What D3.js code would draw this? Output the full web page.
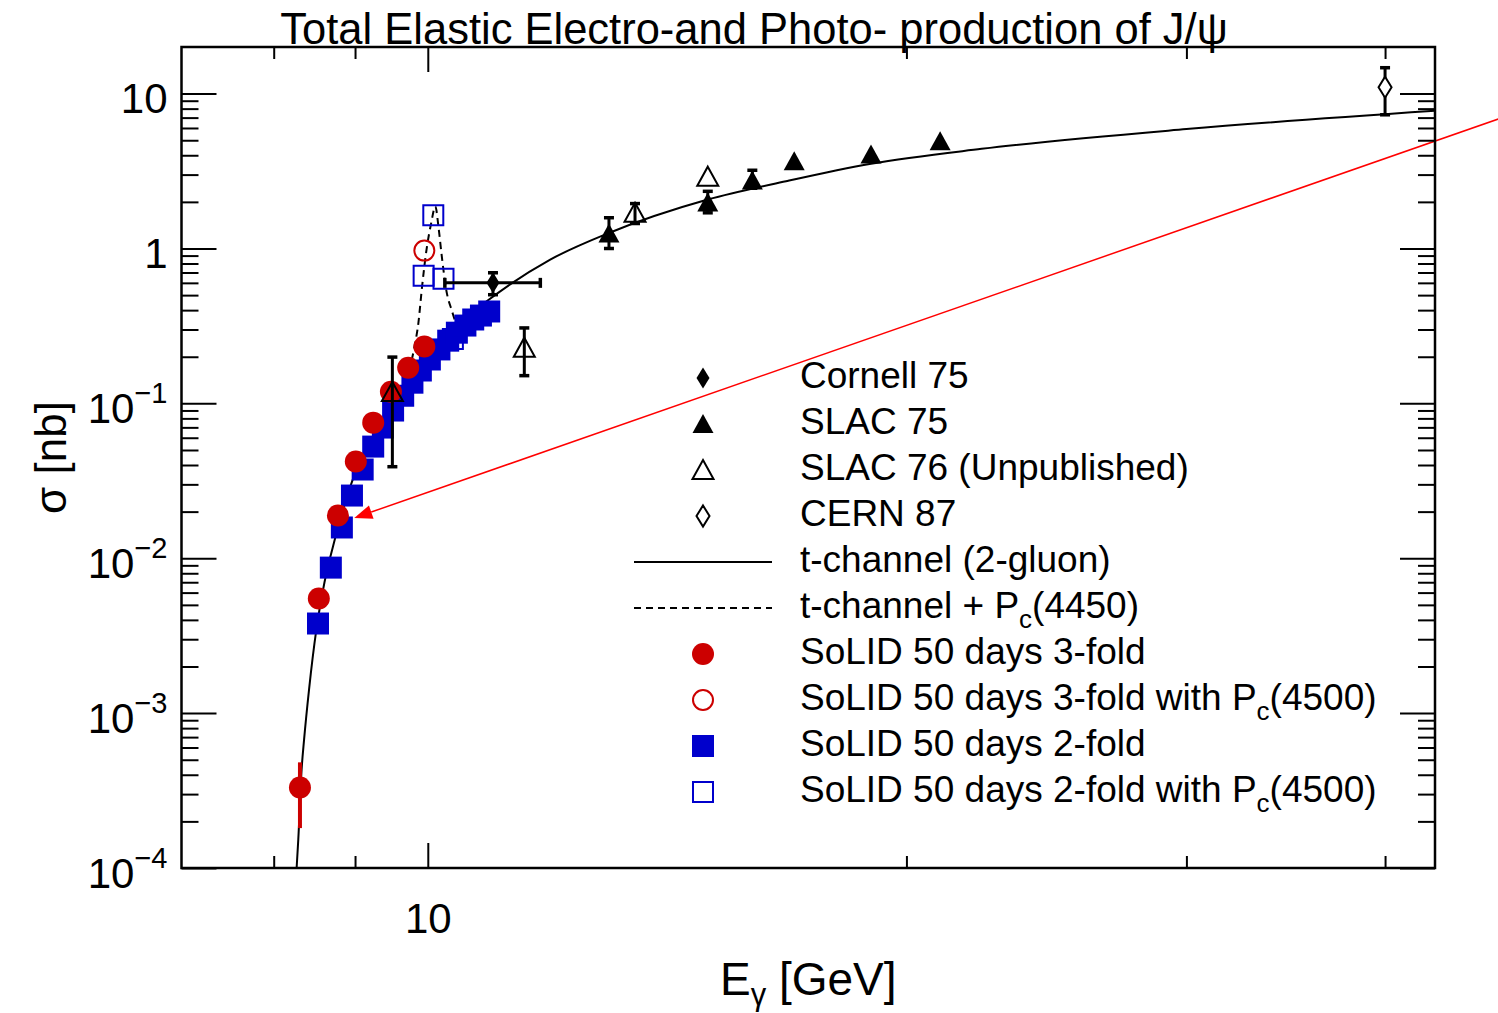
<!DOCTYPE html>
<html>
<head>
<meta http-equiv="Content-type" content="text/html; charset=utf-8">
<title>Total Elastic Electro-and Photo- production of J/psi</title>
<script src="https://d3js.org/d3.v7.min.js"></script>
<style>
  body { margin: 0; background: #fff; }
  svg text { font-family: "Liberation Sans", Arial, Helvetica, sans-serif; fill: #000; }
  .axis .domain { display: none; }
  .axis line { stroke: #000; stroke-width: 2; }
</style>
</head>
<body>
<svg id="chart" width="1498" height="1013"></svg>
<script>
// ---- values (E in GeV, sigma in nb) ----

// t-channel (2-gluon) curve
var gluonE = [8.27, 8.29, 8.33, 8.36, 8.42, 8.51, 8.61, 8.74, 8.97, 9.3, 9.6, 10.0, 10.4, 10.89, 11.94, 13.0, 15.0, 16.8, 19.0, 22.3, 30, 43];
var gluonS = [1.0e-4, 1.53e-4, 4.33e-4, 6.76e-4, 1.42e-3, 3.47e-3, 6.97e-3, 0.0132, 0.0322, 0.065, 0.115, 0.20, 0.31, 0.456, 0.848, 1.26, 2.07, 2.72, 3.53, 4.40, 5.9, 7.74];

// t-channel + Pc(4450)
var pcE = [9.6, 9.81, 9.865, 9.913, 9.975, 10.05, 10.11, 10.155, 10.205, 10.27, 10.35, 10.43, 10.55];
var pcS = [0.115, 0.234, 0.331, 0.543, 0.937, 1.463, 1.873, 1.391, 0.890, 0.543, 0.403, 0.331, 0.352];

// Cornell 75
var cornellE = [10.99], cornellS = [0.60];
var cornellLo = [0.503], cornellHi = [0.697];
var cornellElo = [10.25], cornellEhi = [11.77];

// SLAC 75
var slac75E = [13.0, 15.0, 16.0, 17.0, 19.0, 21.0];
var slac75S = [1.25, 1.98, 2.75, 3.66, 4.04, 4.92];
var slac75Lo = [1.0, 1.70, 2.45, null, null, null];
var slac75Hi = [1.58, 2.34, 3.2, null, null, null];

// SLAC 76 (unpublished)
var slac76E = [9.5, 11.5, 13.5, 15.0];
var slac76S = [0.1185, 0.229, 1.70, 2.91];
var slac76Lo = [0.039, 0.151, 1.45, null];
var slac76Hi = [0.199, 0.307, 1.95, null];

// CERN 87
var cernE = [40], cernS = [11.0], cernLo = [7.3], cernHi = [14.7];

// SoLID 50 days 3-fold
var solid3E = [8.31, 8.54, 8.78, 9.01, 9.24, 9.48, 9.72, 9.95];
var solid3S = [3.31e-4, 5.49e-3, 0.0189, 0.0421, 0.0751, 0.119, 0.170, 0.233];
var solid3Err = [1.5e-4, null, null, null, null, null, null, null];

// SoLID 50 days 3-fold with Pc(4500)
var solid3PcE = [9.95], solid3PcS = [0.969];

// SoLID 50 days 2-fold
var solid2E = [8.53, 8.69, 8.83, 8.96, 9.10, 9.24, 9.37, 9.51, 9.65, 9.78, 9.90, 10.03, 10.17, 10.30, 10.43, 10.56, 10.68, 10.80, 10.93];
var solid2S = [3.79e-3, 8.7e-3, 0.0158, 0.0254, 0.0374, 0.0526, 0.0698, 0.0899, 0.112, 0.136, 0.163, 0.192, 0.223, 0.254, 0.286, 0.318, 0.348, 0.369, 0.392];

// SoLID 50 days 2-fold with Pc(4500)
var solid2PcE = [9.94, 10.08, 10.23, 10.37];
var solid2PcS = [0.668, 1.637, 0.637, 0.26];

// arrow annotation (tail, tip)
var arrowE = [48.8, 8.99], arrowS = [7.77, 0.0182];

// axes
var xDomain = [7, 43], yDomain = [1e-4, 20];
var xMajor = [10], xMinor = [8, 9, 20, 30, 40];
var yMajor = [1e-4, 1e-3, 1e-2, 1e-1, 1, 10];
var yLabels = [["10", "\u22124"], ["10", "\u22123"], ["10", "\u22122"], ["10", "\u22121"], ["1", ""], ["10", ""]];

var legendLabels = ["Cornell 75", "SLAC 75", "SLAC 76 (Unpublished)", "CERN 87",
  "t-channel (2-gluon)", "t-channel + P_c(4450)", "SoLID 50 days 3-fold",
  "SoLID 50 days 3-fold with P_c(4500)", "SoLID 50 days 2-fold",
  "SoLID 50 days 2-fold with P_c(4500)"];

// ---- chart ----
var svg = d3.select("#chart");
var margin = { top: 47, right: 63, bottom: 145, left: 181.5 };
var x0 = margin.left, x1 = +svg.attr("width") - margin.right;
var y0 = +svg.attr("height") - margin.bottom, y1 = margin.top;

var x = d3.scaleLog().domain(xDomain).range([x0, x1]);
var y = d3.scaleLog().domain(yDomain).range([y0, y1]);

var RED = "#cc0000", BLUE = "#0000cc";

var sym = {
  diamond: "M0,-10.5L6.5,0L0,10.5L-6.5,0Z",
  triangle: "M0,-10L10.5,9L-10.5,9Z",
  circle: d3.symbol(d3.symbolCircle, Math.PI * 11 * 11)(),
  ocircle: d3.symbol(d3.symbolCircle, Math.PI * 10 * 10)(),
  square: "M-11,-11H11V11H-11Z",
  osquare: "M-10,-10H10V10H-10Z"
};

svg.append("clipPath").attr("id", "plotclip")
  .append("rect").attr("x", x0).attr("y", y1).attr("width", x1 - x0).attr("height", y0 - y1);

var plot = svg.append("g").attr("clip-path", "url(#plotclip)");
var g = svg.append("g");

var line = d3.line()
  .x(function(d) { return x(d[0]); })
  .y(function(d) { return y(d[1]); })
  .curve(d3.curveMonotoneX);

plot.append("path").datum(d3.zip(gluonE, gluonS))
  .attr("d", line).attr("fill", "none").attr("stroke", "#000").attr("stroke-width", 2);

plot.append("path").datum(d3.zip(pcE, pcS))
  .attr("d", line).attr("fill", "none").attr("stroke", "#000").attr("stroke-width", 2)
  .attr("stroke-dasharray", "7,5");

function markers(E, S, d, fill, stroke, sw) {
  g.append("g").selectAll("path")
    .data(d3.zip(E, S))
    .enter().append("path")
      .attr("d", d)
      .attr("transform", function(p) { return "translate(" + x(p[0]) + "," + y(p[1]) + ")"; })
      .attr("fill", fill)
      .attr("stroke", stroke || "none")
      .attr("stroke-width", sw || 0);
}

function vErr(E, lo, hi, color, w, cap) {
  E.forEach(function(e, i) {
    if (lo[i] == null) return;
    var ex = x(e);
    g.append("line").attr("x1", ex).attr("x2", ex)
      .attr("y1", y(lo[i])).attr("y2", y(hi[i]))
      .attr("stroke", color).attr("stroke-width", w);
    if (cap) {
      [lo[i], hi[i]].forEach(function(v) {
        g.append("line").attr("x1", ex - cap).attr("x2", ex + cap)
          .attr("y1", y(v)).attr("y2", y(v))
          .attr("stroke", color).attr("stroke-width", 3.5);
      });
    }
  });
}

function hErr(S, lo, hi, color, w, cap) {
  S.forEach(function(s, i) {
    var ey = y(s);
    g.append("line").attr("x1", x(lo[i])).attr("x2", x(hi[i]))
      .attr("y1", ey).attr("y2", ey)
      .attr("stroke", color).attr("stroke-width", w);
    [lo[i], hi[i]].forEach(function(v) {
      g.append("line").attr("x1", x(v)).attr("x2", x(v))
        .attr("y1", ey - cap).attr("y2", ey + cap)
        .attr("stroke", color).attr("stroke-width", 3.5);
    });
  });
}

// SoLID projections
markers(solid2PcE, solid2PcS, sym.osquare, "none", BLUE, 2);
markers(solid3PcE, solid3PcS, sym.ocircle, "none", RED, 2);
markers(solid2E, solid2S, sym.square, BLUE);
vErr(solid3E, solid3E.map(function(e, i) { return solid3Err[i] == null ? null : solid3S[i] - solid3Err[i]; }),
  solid3E.map(function(e, i) { return solid3Err[i] == null ? null : solid3S[i] + solid3Err[i]; }), RED, 4, 0);
markers(solid3E, solid3S, sym.circle, RED);

// world data
vErr(slac76E, slac76Lo, slac76Hi, "#000", 3, 5);
markers(slac76E, slac76S, sym.triangle, "none", "#000", 2);
vErr(cornellE, cornellLo, cornellHi, "#000", 3, 5);
hErr(cornellS, cornellElo, cornellEhi, "#000", 3, 5);
markers(cornellE, cornellS, sym.diamond, "#000");
vErr(slac75E, slac75Lo, slac75Hi, "#000", 3, 5);
markers(slac75E, slac75S, sym.triangle, "#000");
vErr(cernE, cernLo, cernHi, "#000", 3, 5);
markers(cernE, cernS, sym.diamond, "#fff", "#000", 2);

// red arrow
var ax0 = x(arrowE[0]), ay0 = y(arrowS[0]), ax1 = x(arrowE[1]), ay1 = y(arrowS[1]);
var ang = Math.atan2(ay0 - ay1, ax0 - ax1);
var hl = 18, hw = 7;
var bx = ax1 + hl * Math.cos(ang), by = ay1 + hl * Math.sin(ang);
svg.append("line").attr("x1", ax0).attr("y1", ay0).attr("x2", bx).attr("y2", by)
  .attr("stroke", "#ff0000").attr("stroke-width", 1.5);
svg.append("path")
  .attr("d", "M" + ax1 + "," + ay1 +
    "L" + (bx - hw * Math.sin(ang)) + "," + (by + hw * Math.cos(ang)) +
    "L" + (bx + hw * Math.sin(ang)) + "," + (by - hw * Math.cos(ang)) + "Z")
  .attr("fill", "#ff0000");

// ---- axes ----
var noLabel = function() { return ""; };
var yMinor = [];
yMajor.forEach(function(v) { for (var k = 2; k <= 9; k++) if (v * k < yDomain[1]) yMinor.push(v * k); });

function axisG(axis, tr) {
  return svg.append("g").attr("class", "axis").attr("transform", tr).call(axis);
}
axisG(d3.axisBottom(x).tickValues(xMinor).tickSize(-12).tickFormat(noLabel), "translate(0," + y0 + ")");
var xAx = axisG(d3.axisBottom(x).tickValues(xMajor).tickSize(-25).tickPadding(0), "translate(0," + y0 + ")");
axisG(d3.axisTop(x).tickValues(xMinor).tickSize(-12).tickFormat(noLabel), "translate(0," + y1 + ")");
axisG(d3.axisTop(x).tickValues(xMajor).tickSize(-25).tickFormat(noLabel), "translate(0," + y1 + ")");
axisG(d3.axisLeft(y).tickValues(yMinor).tickSize(-17).tickFormat(noLabel), "translate(" + x0 + ",0)");
var yAx = axisG(d3.axisLeft(y).tickValues(yMajor).tickSize(-35), "translate(" + x0 + ",0)");
axisG(d3.axisRight(y).tickValues(yMinor).tickSize(-17).tickFormat(noLabel), "translate(" + x1 + ",0)");
axisG(d3.axisRight(y).tickValues(yMajor).tickSize(-35).tickFormat(noLabel), "translate(" + x1 + ",0)");

xAx.selectAll("text")
  .attr("y", 65).attr("dy", null)
  .attr("font-size", 42).style("font-family", "'Liberation Sans', Arial, sans-serif")
  .text("10");

yAx.selectAll("text").each(function(d, i) {
  var t = d3.select(this).text("")
    .attr("x", -14).attr("dy", null).attr("y", 19)
    .attr("font-size", 42).attr("text-anchor", "end")
    .style("font-family", "'Liberation Sans', Arial, sans-serif");
  t.append("tspan").text(yLabels[i][0]);
  if (yLabels[i][1]) t.append("tspan").attr("font-size", 29).attr("dy", -20).text(yLabels[i][1]);
});

// frame
svg.append("rect").attr("x", x0).attr("y", y1).attr("width", x1 - x0).attr("height", y0 - y1)
  .attr("fill", "none").attr("stroke", "#000").attr("stroke-width", 2.5);

// ---- titles ----
svg.append("text").attr("x", 754).attr("y", 44).attr("text-anchor", "middle")
  .attr("font-size", 43.5).text("Total Elastic Electro-and Photo- production of J/\u03c8");

var xt = svg.append("text").attr("x", (x0 + x1) / 2).attr("y", 995)
  .attr("text-anchor", "middle").attr("font-size", 46);
xt.append("tspan").text("E");
xt.append("tspan").attr("font-size", 31).attr("dy", 10).text("\u03b3");
xt.append("tspan").attr("dy", -10).text(" [GeV]");

svg.append("text").attr("transform", "translate(66," + (y0 + y1) / 2 + ") rotate(-90)")
  .attr("text-anchor", "middle").attr("font-size", 44).text("\u03c3 [nb]");

// ---- legend ----
var legX = 703, legText = 800, legY = 388, legStep = 46;
var legSym = [
  { d: sym.diamond, fill: "#000" },
  { d: sym.triangle, fill: "#000" },
  { d: sym.triangle, fill: "none", stroke: "#000" },
  { d: sym.diamond, fill: "#fff", stroke: "#000" },
  { line: "none" },
  { line: "7,5" },
  { d: sym.circle, fill: RED },
  { d: sym.ocircle, fill: "none", stroke: RED },
  { d: sym.square, fill: BLUE },
  { d: sym.osquare, fill: "none", stroke: BLUE }
];

var leg = svg.append("g").selectAll("g")
  .data(legendLabels)
  .enter().append("g")
    .attr("transform", function(d, i) { return "translate(0," + (legY + i * legStep) + ")"; });

leg.each(function(label, i) {
  var row = d3.select(this), s = legSym[i];
  if (s.line) {
    row.append("line").attr("x1", 634).attr("x2", 772).attr("y1", -10).attr("y2", -10)
      .attr("stroke", "#000").attr("stroke-width", 2)
      .attr("stroke-dasharray", s.line === "none" ? null : s.line);
  } else {
    row.append("path").attr("d", s.d).attr("transform", "translate(" + legX + ",-10)")
      .attr("fill", s.fill).attr("stroke", s.stroke || "none").attr("stroke-width", s.stroke ? 2 : 0);
  }
  var t = row.append("text").attr("x", legText).attr("font-size", 37);
  var parts = label.split("_c");
  t.append("tspan").text(parts[0]);
  if (parts.length > 1) {
    t.append("tspan").attr("font-size", 26).attr("dy", 10).text("c");
    t.append("tspan").attr("dy", -10).text(parts[1]);
  }
});
</script>
</body>
</html>
